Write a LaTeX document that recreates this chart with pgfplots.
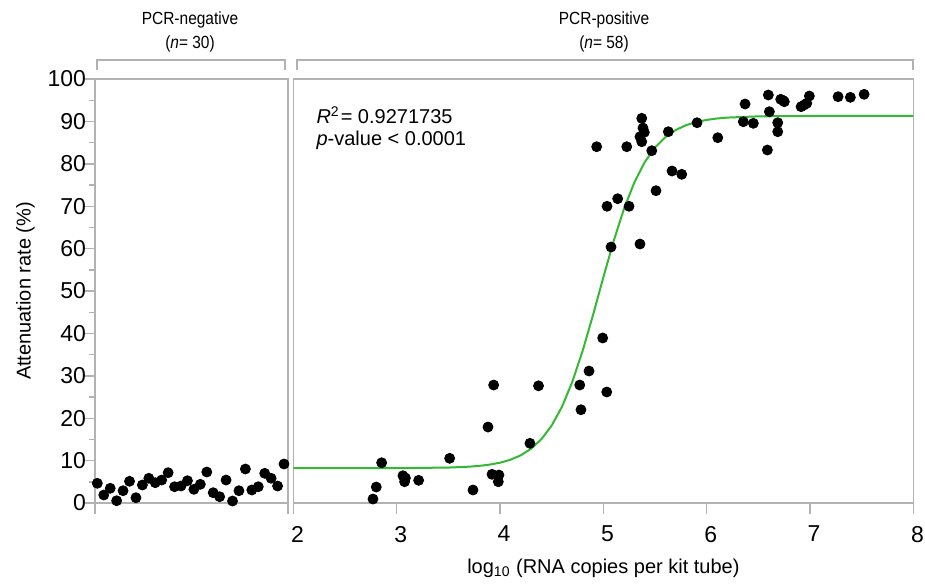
\documentclass[border=0pt]{standalone}
\usepackage{fontspec}
\setmainfont{Liberation Sans}
\usepackage{graphicx}
\usepackage{pgfplots}
\pgfplotsset{compat=1.18}

\definecolor{spine}{RGB}{178,178,178}
\definecolor{fitgreen}{RGB}{52,185,52}

\pgfplotsset{
    panel/.style={
        scale only axis,
        height=212pt,
        ymin=0, ymax=100,
        axis line style={spine, line width=0.9pt},
        every tick/.style={spine, line width=0.7pt},
        tick align=outside,
        /pgf/number format/assume math mode=true,
        tick label style={font=\fontsize{11.5}{13}\selectfont},
        yticklabel style={xshift=4.5pt},
        xticklabel style={xshift=2pt, yshift=-2.5pt},
        label style={font=\fontsize{10}{12}\selectfont},
        clip=false,
    },
    dots/.style={only marks, mark=*, mark size=2.5pt, black},
}

\begin{document}
\begin{tikzpicture}
\useasboundingbox (-47.5pt,-41.5pt) rectangle (415pt,251.5pt);

% PCR-negative panel
\begin{axis}[panel,
        at={(0pt,0pt)}, anchor=south west,
        width=96.5pt,
        xmin=0.64, xmax=30.62,
        xtick={0.64,30.62}, xticklabels={},
        xtick pos=bottom, ytick pos=left,
        ytick={0,10,...,100},
        minor y tick num=1,
        major tick length=5.5pt,
        minor tick length=2.8pt,
        ylabel={Attenuation rate (\%)},
        every axis y label/.style={at={(axis description cs:-0.36,0.5)}, rotate=90, anchor=center},
    ]
    \addplot[dots] coordinates {
        (1,4.65) (2,1.89) (3,3.47) (4,0.54) (5,2.90) (6,5.12)
        (7,1.25) (8,4.25) (9,5.83) (10,4.79) (11,5.42) (12,7.15)
        (13,3.84) (14,4.01) (15,5.26) (16,3.23) (17,4.41) (18,7.31)
        (19,2.43) (20,1.49) (21,5.42) (22,0.47) (23,2.90) (24,8.02)
        (25,3.07) (26,3.84) (27,7.00) (28,5.83) (29,4.01) (30,9.20)
    };
\end{axis}

% PCR-positive panel
\begin{axis}[panel,
        at={(99.2pt,0pt)}, anchor=south west,
        width=310pt,
        xmin=2, xmax=8,
        xtick={2,...,8},
        xtick pos=bottom, ytick pos=left,
        ytick=\empty,
        minor ytick={0,5,...,100},
        major tick length=5.5pt,
        minor tick length=2.5pt,
        xlabel={log\textsubscript{10} (RNA copies per kit tube)},
        every axis x label/.style={at={(axis description cs:0.5,-0.153)}, anchor=center},
    ]
    \addplot[fitgreen, line width=1pt] coordinates {
        (2.0,8.20) (3.0,8.22) (3.5,8.36) (3.7,8.57) (3.8,8.76) (3.9,9.06)
        (4.0,9.51) (4.1,10.20) (4.2,11.25) (4.3,12.79) (4.4,15.05)
        (4.5,18.29) (4.6,22.75) (4.7,28.64) (4.8,35.96) (4.9,44.38)
        (5.0,53.27) (5.1,61.86) (5.2,69.44) (5.3,75.64) (5.4,80.40)
        (5.5,83.86) (5.6,86.31) (5.7,87.98) (5.8,89.11) (5.9,89.86)
        (6.0,90.36) (6.1,90.69) (6.2,90.90) (6.5,91.19) (7.0,91.29) (8.0,91.30)
    };
    \addplot[dots] coordinates {
        (2.770,0.94) (2.802,3.77) (2.854,9.50) (3.060,6.44) (3.076,5.02)
        (3.084,5.90) (3.212,5.35) (3.512,10.54) (3.738,3.07) (3.883,17.92)
        (3.938,27.83) (3.922,6.77) (3.989,6.60) (3.983,5.02) (4.289,14.08)
        (4.372,27.64) (4.771,27.83) (4.783,22.00) (4.861,31.13) (4.993,38.92)
        (5.032,26.18) (5.074,60.38) (5.354,61.08) (5.035,69.98) (5.138,71.77)
        (5.248,69.98) (4.935,84.03) (5.226,84.03) (5.371,90.73) (5.396,87.43)
        (5.354,86.39) (5.371,85.21) (5.383,88.44) (5.468,83.09) (5.628,87.57)
        (5.509,73.66) (5.664,78.30) (5.758,77.52) (5.906,89.69) (6.107,86.16)
        (6.371,94.10) (6.354,89.93) (6.451,89.55) (6.596,96.23) (6.606,92.29)
        (6.587,83.25) (6.687,89.69) (6.687,87.57) (6.716,95.21) (6.751,94.65)
        (6.739,94.93) (6.913,93.47) (6.942,93.87) (6.968,94.27) (6.993,95.99)
        (7.271,95.83) (7.390,95.68) (7.523,96.39)
    };
    \node[anchor=west, inner sep=0pt, font=\fontsize{10}{12}\selectfont]
        at (axis cs:2.22,91.5) {\textit{R}\textsuperscript{2}\kern0.5pt= 0.9271735};
    \node[anchor=west, inner sep=0pt, font=\fontsize{10}{12}\selectfont]
        at (axis cs:2.22,85.6) {\textit{p}-value < 0.0001};
\end{axis}

% group brackets and headings
\draw[spine, line width=0.6pt] (1pt,216.5pt) -- (1pt,221.5pt) -- (95pt,221.5pt) -- (95pt,216.5pt);
\draw[spine, line width=0.6pt] (101pt,216.5pt) -- (101pt,221.5pt) -- (409pt,221.5pt) -- (409pt,216.5pt);
\node[font=\fontsize{8.8}{10}\selectfont] at (47.5pt,241.5pt) {\scalebox{0.88}[1]{PCR-negative}};
\node[font=\fontsize{8.8}{10}\selectfont] at (47.5pt,229.5pt) {\scalebox{0.88}[1]{(\textit{n}= 30)}};
\node[font=\fontsize{8.8}{10}\selectfont] at (254.5pt,241.5pt) {\scalebox{0.88}[1]{PCR-positive}};
\node[font=\fontsize{8.8}{10}\selectfont] at (254.5pt,229.5pt) {\scalebox{0.88}[1]{(\textit{n}= 58)}};
\end{tikzpicture}
\end{document}
